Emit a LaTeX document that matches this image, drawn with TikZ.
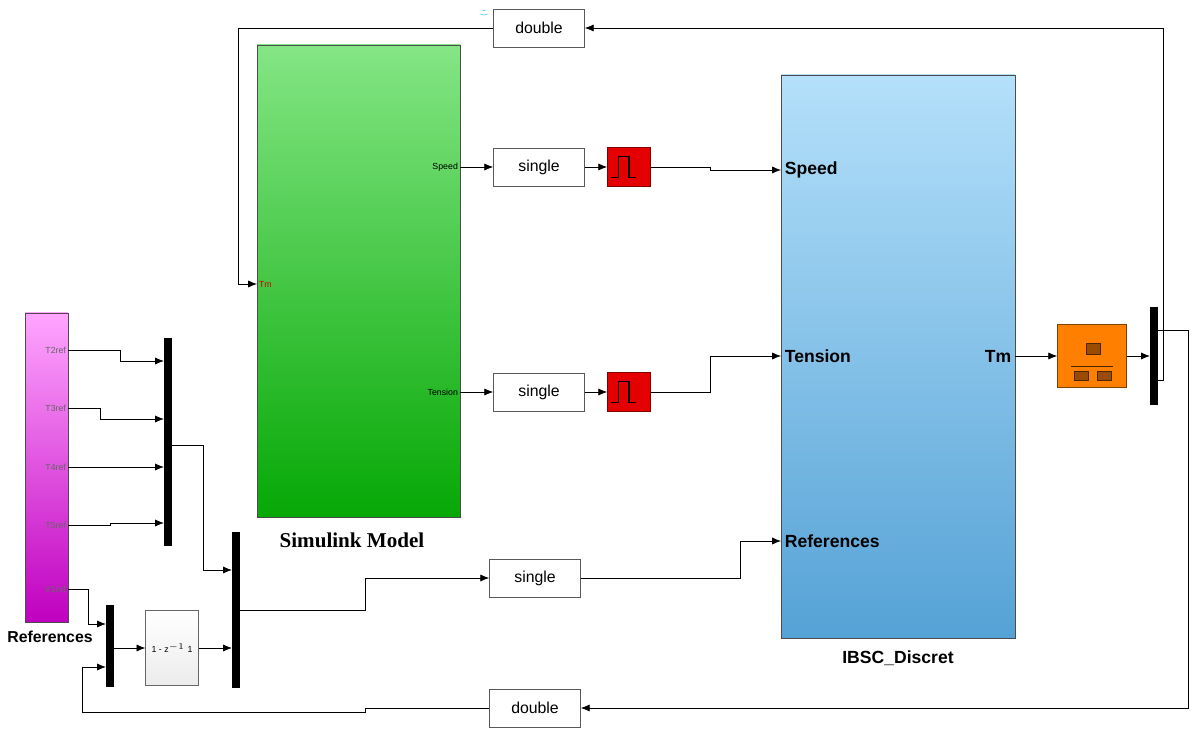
\documentclass[tikz,border=0pt]{standalone}
\usepackage{fontspec}
\setmainfont{Liberation Sans}
\newfontfamily\capfont{Liberation Serif}
\usetikzlibrary{arrows.meta,positioning}
\definecolor{ibtop}{HTML}{B4E0FA}
\definecolor{ibbot}{HTML}{55A2D6}
\definecolor{smtop}{HTML}{84E684}
\definecolor{smbot}{HTML}{06A806}
\tikzset{%
  conv/.style={rectangle, draw=gray!70!black, fill=white, minimum width=1.82cm, minimum height=0.76cm, font=\small},
  zoh/.style={rectangle, draw=red!50!black, fill=red!90!black, minimum width=0.86cm, minimum height=0.78cm},
  bar/.style={rectangle, fill=black, minimum width=0.15cm, inner sep=0pt},
  port/.style={font=\tiny, inner sep=1pt},
  bigport/.style={font=\bfseries, inner sep=2pt},
  line/.style={draw, -{Latex[length=5pt,width=4pt]}},
  wire/.style={draw}}
\begin{document}
\begin{tikzpicture}[x=0.02cm, y=-0.02cm]
    \useasboundingbox (0,0) rectangle (1200,739);

    % subsystems
    \shade [top color=smtop, bottom color=smbot, draw=black!70] (257,45) rectangle (460,517);
    \node [font=\bfseries\capfont\large] (simcap) at (352,540) {Simulink Model};
    \shade [top color=ibtop, bottom color=ibbot, draw=black!70] (781,75) rectangle (1015,638);
    \node [bigport] (ibsccap) at (898,658) {IBSC\_Discret};
    \shade [top color=magenta!35!white, bottom color=magenta!75!black, draw=black!70] (25,313) rectangle (68,622);
    \node [font=\bfseries\small] (refcap) at (50,637) {References};

    % ports
    \coordinate (tmin) at (257,284);
    \node [port, text=red!80!black, anchor=west] at (tmin) {Tm};
    \coordinate (spout) at (460,167);
    \node [port, anchor=east] at (spout) {Speed};
    \coordinate (tenout) at (460,392);
    \node [port, anchor=east] at (tenout) {Tension};
    \coordinate (spin) at (781,170);
    \node [bigport, anchor=west] at (spin) {Speed};
    \coordinate (tenin) at (781,356);
    \node [bigport, anchor=west] at (tenin) {Tension};
    \coordinate (refin) at (781,541);
    \node [bigport, anchor=west] at (refin) {References};
    \coordinate (tmout) at (1015,356);
    \node [bigport, anchor=east] at (tmout) {Tm};
    \foreach \n/\y in {T2ref/350, T3ref/408, T4ref/467, T5ref/525, V1ref/589} {
      \coordinate (\n) at (68,\y);
      \node [port, anchor=east, text=black!60] at (\n) {\n};
    }

    % blocks
    \node [conv] (dtop) at (539,28) {double};
    \node [conv] (s1) at (539,167) {single};
    \node [conv] (s2) at (539,392) {single};
    \node [conv] (s3) at (535,578) {single};
    \node [conv] (dbot) at (535,708) {double};
    \node [zoh] (z1) at (629,167) {};
    \node [zoh] (z2) at (629,392) {};
    \foreach \z in {z1,z2}
      \draw [black, thick] ([xshift=-10pt,yshift=-6pt]\z.center) -- ++(4pt,0) -- ++(0,12pt) -- ++(6pt,0) -- ++(0,-12pt) -- ++(4pt,0);
    \node [rectangle, draw=black!60, top color=white, bottom color=gray!15, minimum width=0.98cm, minimum height=1.5cm, font=\tiny] (gain) at (172,648) {1 - z$^{-1}$ 1};
    \node [rectangle, draw=orange!50!black, fill=orange, minimum width=1.38cm, minimum height=1.26cm] (sel) at (1092,356) {};
    \draw [orange!30!black] ([xshift=-12pt,yshift=-6pt]sel.center) -- ++(24pt,0);
    \draw [orange!30!black, fill=orange!60!black] ([xshift=-10pt,yshift=-9pt]sel.center) rectangle ++(8pt,-5pt)
      ([xshift=3pt,yshift=-9pt]sel.center) rectangle ++(8pt,-5pt)
      ([xshift=-3pt,yshift=7pt]sel.center) rectangle ++(8pt,-6pt);

    \node [bar, minimum height=4.18cm] (mux1) at (168,442) {};
    \node [bar, minimum height=3.12cm] (mux2) at (236,610) {};
    \node [bar, minimum height=1.66cm] (mux3) at (110,646) {};
    \node [bar, minimum height=1.96cm] (mux4) at (1154,356) {};

    % connections
    \path [line] (T2ref) -| (120,361) -- (mux1.west |- 0,361);
    \path [line] (T3ref) -| (100,419) -- (mux1.west |- 0,419);
    \path [line] (T4ref) -- (mux1.west |- 0,467);
    \path [line] (T5ref) -| (110,523) -- (mux1.west |- 0,523);
    \path [line] (mux1.east |- 0,445) -| (203,570) -- (mux2.west |- 0,570);
    \path [line] (V1ref) -| (88,624) -- (mux3.west |- 0,624);
    \path [line] (mux3.east |- 0,648) -- (gain);
    \path [line] (gain) -- (mux2.west |- 0,648);
    \path [line] (mux2.east |- 0,610) -| (365,578) -- (s3);
    \path [line] (s3) -| (740,541) -- (refin);

    \path [line] (spout) -- (s1);
    \path [line] (s1) -- (z1);
    \path [line] (z1) -| (710,170) -- (spin);
    \path [line] (tenout) -- (s2);
    \path [line] (s2) -- (z2);
    \path [line] (z2) -| (710,356) -- (tenin);
    \path [line] (tmout) -- (sel);
    \path [line] (sel) -- (mux4);

    \path [line] (mux4.east |- 0,380) -| (1163,28) -- (dtop);
    \path [line] (dtop) -| (238,284) -- (tmin);
    \path [line] (mux4.east |- 0,330) -| (1188,708) -- (dbot);
    \path [line] (dbot) -| (365,712) -| (82,667) -- (mux3.west |- 0,667);

    % wireless mark
    \draw [cyan!60, thin] (488,14) arc (60:120:8) (486,10) arc (60:120:4);
\end{tikzpicture}
\end{document}
